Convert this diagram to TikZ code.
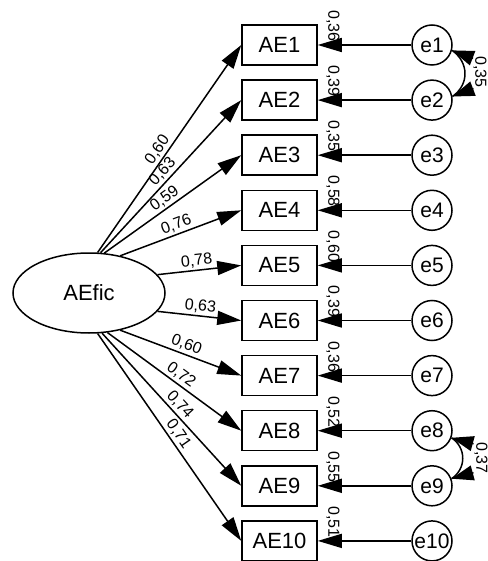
\documentclass[tikz,border=0pt]{standalone}
\usepackage{fontspec}
\setmainfont{Liberation Sans}
\usetikzlibrary{shapes.geometric,arrows.meta,calc}

\begin{document}
\begin{tikzpicture}[x=1pt, y=-1pt, line width=1.5pt,
        item/.style={draw, minimum width=75pt, minimum height=40pt, inner sep=0pt, font=\fontsize{22}{24}\selectfont},
        err/.style={draw, circle, minimum size=40pt, inner sep=0pt, font=\fontsize{21}{24}\selectfont},
        latent/.style={draw, ellipse, minimum width=152pt, minimum height=80pt, inner sep=0pt, font=\fontsize{22}{24}\selectfont},
        load/.style={-{Triangle[length=24pt,width=14pt]}},
        covtip/.style={-{Triangle[length=22pt,width=15pt]}},
        coef/.style={font=\fontsize{16}{18}\selectfont, sloped, above, inner sep=2pt},
        varlab/.style={font=\fontsize{16}{18}\selectfont, rotate=-90, inner sep=0pt}]
        \useasboundingbox (0,0) rectangle (487,561);

        \node[latent] (AEfic) at (89,293) {AEfic};

        % items and errors
        \foreach \i in {1,...,10} {
            \node[item] (AE\i) at (279.5,{45+55.1*(\i-1)}) {AE\i};
            \node[err] (e\i) at (432,{45+55.1*(\i-1)}) {e\i};
            \draw[load] (e\i) -- (AE\i);
        }

        % loadings
        \foreach \i/\a/\p/\v in {1/78/0.47/{0,60}, 2/74/0.49/{0,63}, 3/69/0.48/{0,59}, 4/50/0.49/{0,76},
                5/15/0.48/{0,78}, 6/-15/0.50/{0,63}, 7/-50/0.52/{0,60}, 8/-65/0.51/{0,72},
                9/-72/0.51/{0,74}, 10/-78/0.51/{0,71}}
            \draw[load] (AEfic.\a) -- node[coef, pos=\p] {\v} (AE\i.west);

        % error variances
        \foreach \i/\v in {1/{0,36}, 2/{0,39}, 3/{0,35}, 4/{0,58}, 5/{0,60},
                6/{0,39}, 7/{0,36}, 8/{0,52}, 9/{0,55}, 10/{0,51}}
            \node[varlab] (v\i) at (333,{26+55.1*(\i-1)}) {\v};

        % covariances
        \draw (e1.-15) .. controls +(17,12) and +(17,-12) .. (e2.10);
        \coordinate (t1) at ($(e1.-15)+(21,8)$);
        \coordinate (t2) at ($(e2.10)+(21,-8)$);
        \draw[covtip] (t1) -- (e1.-15);
        \draw[covtip] (t2) -- (e2.10);
        \node[varlab] (c12) at (480,72) {0,35};

        \draw (e8.-20) .. controls +(15,10) and +(15,-10) .. (e9.20);
        \coordinate (t8) at ($(e8.-20)+(22,6)$);
        \coordinate (t9) at ($(e9.20)+(22,-6)$);
        \draw[covtip] (t8) -- (e8.-20);
        \draw[covtip] (t9) -- (e9.20);
        \node[varlab] (c89) at (481,458) {0,37};
    \end{tikzpicture}
\end{document}
